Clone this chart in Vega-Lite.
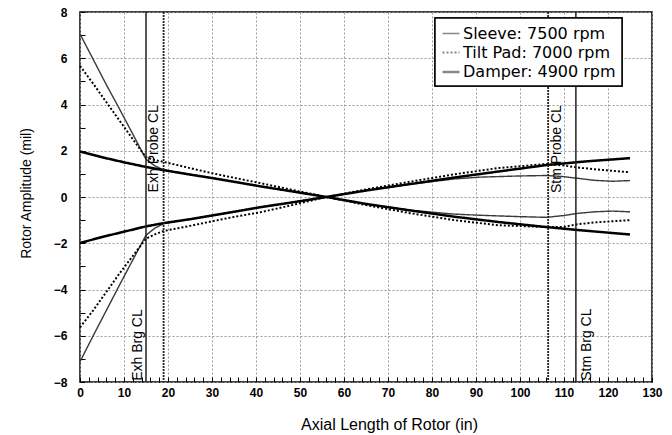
{
  "$schema": "https://vega.github.io/schema/vega-lite/v6.json",
  "width": 572,
  "height": 370,
  "autosize": {"type": "none"},
  "padding": {"left": 80, "top": 12, "right": 20, "bottom": 53},
  "background": "white",
  "config": {
    "view": {"stroke": "black", "strokeWidth": 1.5},
    "font": "Liberation Sans",
    "legend": {"strokeWidth": 1.5}
  },
  "datasets": {
    "curves": [
      {"s": "Sleeve: 7500 rpm", "b": "u", "x": 0, "y": 7.05},
      {"s": "Sleeve: 7500 rpm", "b": "u", "x": 3, "y": 5.95},
      {"s": "Sleeve: 7500 rpm", "b": "u", "x": 6, "y": 4.85},
      {"s": "Sleeve: 7500 rpm", "b": "u", "x": 9, "y": 3.8},
      {"s": "Sleeve: 7500 rpm", "b": "u", "x": 12, "y": 2.72},
      {"s": "Sleeve: 7500 rpm", "b": "u", "x": 15, "y": 1.63},
      {"s": "Sleeve: 7500 rpm", "b": "u", "x": 17, "y": 1.35},
      {"s": "Sleeve: 7500 rpm", "b": "u", "x": 19, "y": 1.17},
      {"s": "Sleeve: 7500 rpm", "b": "u", "x": 25, "y": 0.98},
      {"s": "Sleeve: 7500 rpm", "b": "u", "x": 30, "y": 0.83},
      {"s": "Sleeve: 7500 rpm", "b": "u", "x": 35, "y": 0.66},
      {"s": "Sleeve: 7500 rpm", "b": "u", "x": 41, "y": 0.46},
      {"s": "Sleeve: 7500 rpm", "b": "u", "x": 48, "y": 0.25},
      {"s": "Sleeve: 7500 rpm", "b": "u", "x": 56, "y": 0},
      {"s": "Sleeve: 7500 rpm", "b": "u", "x": 65, "y": 0.28},
      {"s": "Sleeve: 7500 rpm", "b": "u", "x": 75, "y": 0.55},
      {"s": "Sleeve: 7500 rpm", "b": "u", "x": 85, "y": 0.78},
      {"s": "Sleeve: 7500 rpm", "b": "u", "x": 91, "y": 0.86},
      {"s": "Sleeve: 7500 rpm", "b": "u", "x": 100, "y": 0.91},
      {"s": "Sleeve: 7500 rpm", "b": "u", "x": 106, "y": 0.93},
      {"s": "Sleeve: 7500 rpm", "b": "u", "x": 110, "y": 0.88},
      {"s": "Sleeve: 7500 rpm", "b": "u", "x": 113, "y": 0.81},
      {"s": "Sleeve: 7500 rpm", "b": "u", "x": 117, "y": 0.72},
      {"s": "Sleeve: 7500 rpm", "b": "u", "x": 121, "y": 0.68},
      {"s": "Sleeve: 7500 rpm", "b": "u", "x": 125, "y": 0.71},
      {"s": "Sleeve: 7500 rpm", "b": "l", "x": 0, "y": -7.12},
      {"s": "Sleeve: 7500 rpm", "b": "l", "x": 3, "y": -6.0},
      {"s": "Sleeve: 7500 rpm", "b": "l", "x": 6, "y": -4.9},
      {"s": "Sleeve: 7500 rpm", "b": "l", "x": 9, "y": -3.8},
      {"s": "Sleeve: 7500 rpm", "b": "l", "x": 12, "y": -2.72},
      {"s": "Sleeve: 7500 rpm", "b": "l", "x": 15, "y": -1.65},
      {"s": "Sleeve: 7500 rpm", "b": "l", "x": 17, "y": -1.35},
      {"s": "Sleeve: 7500 rpm", "b": "l", "x": 19, "y": -1.15},
      {"s": "Sleeve: 7500 rpm", "b": "l", "x": 25, "y": -0.96},
      {"s": "Sleeve: 7500 rpm", "b": "l", "x": 30, "y": -0.8},
      {"s": "Sleeve: 7500 rpm", "b": "l", "x": 35, "y": -0.64},
      {"s": "Sleeve: 7500 rpm", "b": "l", "x": 41, "y": -0.44},
      {"s": "Sleeve: 7500 rpm", "b": "l", "x": 48, "y": -0.24},
      {"s": "Sleeve: 7500 rpm", "b": "l", "x": 56, "y": 0},
      {"s": "Sleeve: 7500 rpm", "b": "l", "x": 65, "y": -0.3},
      {"s": "Sleeve: 7500 rpm", "b": "l", "x": 75, "y": -0.57},
      {"s": "Sleeve: 7500 rpm", "b": "l", "x": 85, "y": -0.74},
      {"s": "Sleeve: 7500 rpm", "b": "l", "x": 91, "y": -0.79},
      {"s": "Sleeve: 7500 rpm", "b": "l", "x": 100, "y": -0.85},
      {"s": "Sleeve: 7500 rpm", "b": "l", "x": 106, "y": -0.88},
      {"s": "Sleeve: 7500 rpm", "b": "l", "x": 110, "y": -0.8},
      {"s": "Sleeve: 7500 rpm", "b": "l", "x": 113, "y": -0.71},
      {"s": "Sleeve: 7500 rpm", "b": "l", "x": 117, "y": -0.64},
      {"s": "Sleeve: 7500 rpm", "b": "l", "x": 121, "y": -0.61},
      {"s": "Sleeve: 7500 rpm", "b": "l", "x": 125, "y": -0.64},
      {"s": "Tilt Pad: 7000 rpm", "b": "u", "x": 0, "y": 5.67},
      {"s": "Tilt Pad: 7000 rpm", "b": "u", "x": 3, "y": 4.9},
      {"s": "Tilt Pad: 7000 rpm", "b": "u", "x": 6, "y": 4.1},
      {"s": "Tilt Pad: 7000 rpm", "b": "u", "x": 9, "y": 3.3},
      {"s": "Tilt Pad: 7000 rpm", "b": "u", "x": 12, "y": 2.5},
      {"s": "Tilt Pad: 7000 rpm", "b": "u", "x": 15, "y": 1.72},
      {"s": "Tilt Pad: 7000 rpm", "b": "u", "x": 17, "y": 1.6},
      {"s": "Tilt Pad: 7000 rpm", "b": "u", "x": 19, "y": 1.52},
      {"s": "Tilt Pad: 7000 rpm", "b": "u", "x": 25, "y": 1.25},
      {"s": "Tilt Pad: 7000 rpm", "b": "u", "x": 30, "y": 1.03},
      {"s": "Tilt Pad: 7000 rpm", "b": "u", "x": 35, "y": 0.83},
      {"s": "Tilt Pad: 7000 rpm", "b": "u", "x": 41, "y": 0.6},
      {"s": "Tilt Pad: 7000 rpm", "b": "u", "x": 48, "y": 0.32},
      {"s": "Tilt Pad: 7000 rpm", "b": "u", "x": 56, "y": 0},
      {"s": "Tilt Pad: 7000 rpm", "b": "u", "x": 65, "y": 0.33},
      {"s": "Tilt Pad: 7000 rpm", "b": "u", "x": 75, "y": 0.66},
      {"s": "Tilt Pad: 7000 rpm", "b": "u", "x": 85, "y": 0.98},
      {"s": "Tilt Pad: 7000 rpm", "b": "u", "x": 95, "y": 1.25},
      {"s": "Tilt Pad: 7000 rpm", "b": "u", "x": 100, "y": 1.33},
      {"s": "Tilt Pad: 7000 rpm", "b": "u", "x": 106, "y": 1.43},
      {"s": "Tilt Pad: 7000 rpm", "b": "u", "x": 110, "y": 1.36},
      {"s": "Tilt Pad: 7000 rpm", "b": "u", "x": 113, "y": 1.28},
      {"s": "Tilt Pad: 7000 rpm", "b": "u", "x": 117, "y": 1.2},
      {"s": "Tilt Pad: 7000 rpm", "b": "u", "x": 121, "y": 1.13},
      {"s": "Tilt Pad: 7000 rpm", "b": "u", "x": 125, "y": 1.07},
      {"s": "Tilt Pad: 7000 rpm", "b": "l", "x": 0, "y": -5.64},
      {"s": "Tilt Pad: 7000 rpm", "b": "l", "x": 3, "y": -4.9},
      {"s": "Tilt Pad: 7000 rpm", "b": "l", "x": 6, "y": -4.1},
      {"s": "Tilt Pad: 7000 rpm", "b": "l", "x": 9, "y": -3.3},
      {"s": "Tilt Pad: 7000 rpm", "b": "l", "x": 12, "y": -2.55},
      {"s": "Tilt Pad: 7000 rpm", "b": "l", "x": 15, "y": -1.8},
      {"s": "Tilt Pad: 7000 rpm", "b": "l", "x": 17, "y": -1.62},
      {"s": "Tilt Pad: 7000 rpm", "b": "l", "x": 19, "y": -1.47},
      {"s": "Tilt Pad: 7000 rpm", "b": "l", "x": 25, "y": -1.25},
      {"s": "Tilt Pad: 7000 rpm", "b": "l", "x": 30, "y": -1.05},
      {"s": "Tilt Pad: 7000 rpm", "b": "l", "x": 35, "y": -0.86},
      {"s": "Tilt Pad: 7000 rpm", "b": "l", "x": 41, "y": -0.66},
      {"s": "Tilt Pad: 7000 rpm", "b": "l", "x": 48, "y": -0.36},
      {"s": "Tilt Pad: 7000 rpm", "b": "l", "x": 56, "y": 0},
      {"s": "Tilt Pad: 7000 rpm", "b": "l", "x": 65, "y": -0.35},
      {"s": "Tilt Pad: 7000 rpm", "b": "l", "x": 75, "y": -0.7},
      {"s": "Tilt Pad: 7000 rpm", "b": "l", "x": 85, "y": -1.0},
      {"s": "Tilt Pad: 7000 rpm", "b": "l", "x": 95, "y": -1.22},
      {"s": "Tilt Pad: 7000 rpm", "b": "l", "x": 106, "y": -1.3},
      {"s": "Tilt Pad: 7000 rpm", "b": "l", "x": 110, "y": -1.29},
      {"s": "Tilt Pad: 7000 rpm", "b": "l", "x": 113, "y": -1.18},
      {"s": "Tilt Pad: 7000 rpm", "b": "l", "x": 117, "y": -1.1},
      {"s": "Tilt Pad: 7000 rpm", "b": "l", "x": 121, "y": -1.05},
      {"s": "Tilt Pad: 7000 rpm", "b": "l", "x": 125, "y": -1.0},
      {"s": "Damper: 4900 rpm", "b": "u", "x": 0, "y": 1.97},
      {"s": "Damper: 4900 rpm", "b": "u", "x": 5, "y": 1.72},
      {"s": "Damper: 4900 rpm", "b": "u", "x": 10, "y": 1.5},
      {"s": "Damper: 4900 rpm", "b": "u", "x": 15, "y": 1.3},
      {"s": "Damper: 4900 rpm", "b": "u", "x": 19, "y": 1.16},
      {"s": "Damper: 4900 rpm", "b": "u", "x": 25, "y": 0.97},
      {"s": "Damper: 4900 rpm", "b": "u", "x": 30, "y": 0.82},
      {"s": "Damper: 4900 rpm", "b": "u", "x": 35, "y": 0.66},
      {"s": "Damper: 4900 rpm", "b": "u", "x": 41, "y": 0.46},
      {"s": "Damper: 4900 rpm", "b": "u", "x": 48, "y": 0.25},
      {"s": "Damper: 4900 rpm", "b": "u", "x": 56, "y": 0},
      {"s": "Damper: 4900 rpm", "b": "u", "x": 65, "y": 0.28},
      {"s": "Damper: 4900 rpm", "b": "u", "x": 75, "y": 0.56},
      {"s": "Damper: 4900 rpm", "b": "u", "x": 85, "y": 0.84},
      {"s": "Damper: 4900 rpm", "b": "u", "x": 95, "y": 1.1},
      {"s": "Damper: 4900 rpm", "b": "u", "x": 106, "y": 1.38},
      {"s": "Damper: 4900 rpm", "b": "u", "x": 115, "y": 1.54},
      {"s": "Damper: 4900 rpm", "b": "u", "x": 125, "y": 1.68},
      {"s": "Damper: 4900 rpm", "b": "l", "x": 0, "y": -1.99},
      {"s": "Damper: 4900 rpm", "b": "l", "x": 5, "y": -1.73},
      {"s": "Damper: 4900 rpm", "b": "l", "x": 10, "y": -1.5},
      {"s": "Damper: 4900 rpm", "b": "l", "x": 15, "y": -1.27},
      {"s": "Damper: 4900 rpm", "b": "l", "x": 19, "y": -1.13},
      {"s": "Damper: 4900 rpm", "b": "l", "x": 25, "y": -0.96},
      {"s": "Damper: 4900 rpm", "b": "l", "x": 30, "y": -0.8},
      {"s": "Damper: 4900 rpm", "b": "l", "x": 35, "y": -0.64},
      {"s": "Damper: 4900 rpm", "b": "l", "x": 41, "y": -0.44},
      {"s": "Damper: 4900 rpm", "b": "l", "x": 48, "y": -0.24},
      {"s": "Damper: 4900 rpm", "b": "l", "x": 56, "y": 0},
      {"s": "Damper: 4900 rpm", "b": "l", "x": 65, "y": -0.3},
      {"s": "Damper: 4900 rpm", "b": "l", "x": 75, "y": -0.58},
      {"s": "Damper: 4900 rpm", "b": "l", "x": 85, "y": -0.85},
      {"s": "Damper: 4900 rpm", "b": "l", "x": 95, "y": -1.08},
      {"s": "Damper: 4900 rpm", "b": "l", "x": 106, "y": -1.3},
      {"s": "Damper: 4900 rpm", "b": "l", "x": 115, "y": -1.46},
      {"s": "Damper: 4900 rpm", "b": "l", "x": 125, "y": -1.62}
    ],
    "refs": [
      {"x": 15, "kind": "Brg"},
      {"x": 19, "kind": "Probe"},
      {"x": 106.4, "kind": "Probe"},
      {"x": 112.7, "kind": "Brg"}
    ],
    "labels": [
      {"x": 16.8, "y": 0.2, "text": "Exh Probe CL"},
      {"x": 13.2, "y": -7.95, "text": "Exh Brg CL"},
      {"x": 108.5, "y": 0.17, "text": "Stm Probe CL"},
      {"x": 115.2, "y": -7.95, "text": "Stm Brg CL"}
    ]
  },
  "layer": [
    {
      "data": {"name": "curves"},
      "mark": {"type": "line", "strokeJoin": "round"},
      "encoding": {
        "x": {
          "field": "x", "type": "quantitative",
          "scale": {"domain": [0, 130], "nice": false, "zero": false},
          "axis": {
            "title": "Axial Length of Rotor (in)",
            "values": [0,2,4,6,8,10,12,14,16,18,20,22,24,26,28,30,32,34,36,38,40,42,44,46,48,50,52,54,56,58,60,62,64,66,68,70,72,74,76,78,80,82,84,86,88,90,92,94,96,98,100,102,104,106,108,110,112,114,116,118,120,122,124,126,128,130],
            "tickCount": 200,
            "format": "d",
            "labelExpr": "datum.value % 10 === 0 ? datum.label : ''",
            "labelOverlap": false,
            "labelFlush": false,
            "labelBound": false,
            "tickSize": -5,
            "tickColor": "black",
            "tickWidth": 1,
            "domain": false,
            "grid": true,
            "gridColor": {"condition": {"test": "datum.value % 10 === 0", "value": "#9a9a9a"}, "value": "transparent"},
            "gridDash": [2, 2],
            "gridWidth": 1,
            "labelFont": "Liberation Sans",
            "labelFontWeight": "bold",
            "labelFontSize": 12,
            "labelColor": "black",
            "labelPadding": 10,
            "titleFont": "Liberation Sans",
            "titleFontSize": 16,
            "titleFontWeight": "normal",
            "titleColor": "black",
            "titleX": 309,
            "titleY": 42,
            "titleBaseline": "middle"
          }
        },
        "y": {
          "field": "y", "type": "quantitative",
          "scale": {"domain": [-8, 8], "nice": false},
          "axis": {
            "title": "Rotor Amplitude (mil)",
            "values": [-8,-7.5,-7,-6.5,-6,-5.5,-5,-4.5,-4,-3.5,-3,-2.5,-2,-1.5,-1,-0.5,0,0.5,1,1.5,2,2.5,3,3.5,4,4.5,5,5.5,6,6.5,7,7.5,8],
            "tickCount": 200,
            "format": "d",
            "labelExpr": "datum.value % 2 === 0 ? datum.label : ''",
            "labelOverlap": false,
            "labelFlush": false,
            "labelBound": false,
            "tickSize": -5,
            "tickColor": "black",
            "tickWidth": 1,
            "domain": false,
            "grid": true,
            "gridColor": {"condition": {"test": "datum.value % 2 === 0", "value": "#9a9a9a"}, "value": "transparent"},
            "gridDash": [2, 2],
            "gridWidth": 1,
            "labelFont": "Liberation Sans",
            "labelFontWeight": "bold",
            "labelFontSize": 12,
            "labelColor": "black",
            "labelPadding": 18,
            "titleFont": "Liberation Sans",
            "titleFontSize": 14,
            "titleFontWeight": "normal",
            "titleColor": "black",
            "titleX": -54,
            "titleY": 181,
            "titleAngle": -90,
            "titleBaseline": "middle"
          }
        },
        "detail": {"field": "b"},
        "color": {
          "field": "s", "type": "nominal",
          "scale": {"domain": ["Sleeve: 7500 rpm", "Tilt Pad: 7000 rpm", "Damper: 4900 rpm"], "range": ["#3a3a3a", "#000000", "#000000"]},
          "legend": {
            "title": null,
            "orient": "none",
            "legendX": 355,
            "legendY": 6,
            "symbolType": "stroke",
            "symbolSize": 289,
            "symbolStrokeWidth": 2.5,
            "labelFont": "DejaVu Sans",
            "labelFontSize": 16,
            "labelColor": "black",
            "labelOffset": 2,
            "labelLimit": 300,
            "rowPadding": 1,
            "padding": 6,
            "strokeColor": "black",
            "fillColor": "white"
          }
        },
        "strokeDash": {
          "field": "s", "type": "nominal",
          "scale": {"domain": ["Sleeve: 7500 rpm", "Tilt Pad: 7000 rpm", "Damper: 4900 rpm"], "range": [[1, 0], [2, 2], [1, 0]]},
          "legend": {
            "title": null,
            "orient": "none",
            "legendX": 355,
            "legendY": 6,
            "symbolType": "stroke",
            "symbolSize": 289,
            "symbolStrokeWidth": 2.5,
            "labelFont": "DejaVu Sans",
            "labelFontSize": 16,
            "labelColor": "black",
            "labelOffset": 2,
            "labelLimit": 300,
            "rowPadding": 1,
            "padding": 6,
            "strokeColor": "black",
            "fillColor": "white"
          }
        },
        "strokeWidth": {
          "field": "s", "type": "nominal",
          "scale": {"domain": ["Sleeve: 7500 rpm", "Tilt Pad: 7000 rpm", "Damper: 4900 rpm"], "range": [1.4, 2.5, 2.3]},
          "legend": null
        }
      }
    },
    {
      "data": {"name": "refs"},
      "mark": {"type": "rule", "color": "#222222"},
      "encoding": {
        "x": {"field": "x", "type": "quantitative"},
        "strokeDash": {"field": "kind", "type": "nominal", "scale": {"domain": ["Brg", "Probe"], "range": [[1, 0], [2, 1]]}, "legend": null},
        "strokeWidth": {"field": "kind", "type": "nominal", "scale": {"domain": ["Brg", "Probe"], "range": [1.5, 1.8]}, "legend": null}
      }
    },
    {
      "mark": {"type": "rule", "color": "black", "strokeWidth": 1.5},
      "encoding": {"y": {"datum": 0, "type": "quantitative"}}
    },
    {
      "data": {"name": "labels"},
      "mark": {"type": "text", "angle": 270, "align": "left", "baseline": "middle", "font": "Liberation Sans", "fontSize": 14, "color": "black"},
      "encoding": {
        "x": {"field": "x", "type": "quantitative"},
        "y": {"field": "y", "type": "quantitative"},
        "text": {"field": "text"}
      }
    }
  ],
  "resolve": {"scale": {"strokeDash": "independent", "strokeWidth": "independent"}}
}
